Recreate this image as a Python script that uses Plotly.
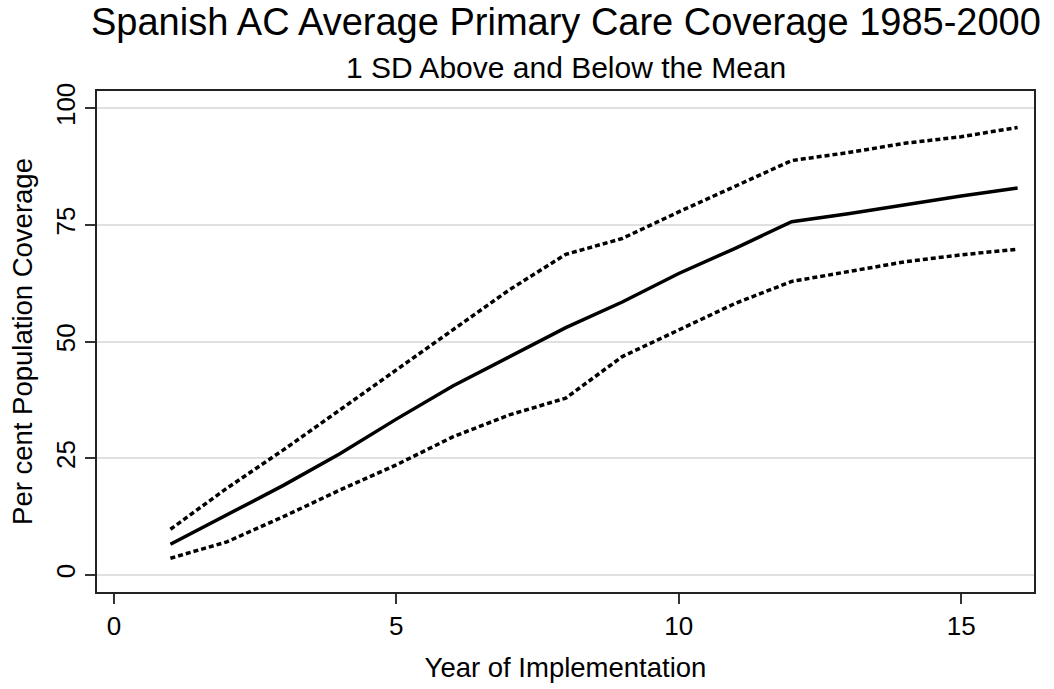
import plotly.graph_objects as go

years = list(range(1, 17))
mean_cov = [6.6, 12.9, 19.2, 26.0, 33.4, 40.5, 46.8, 53.0, 58.5, 64.6, 70.0, 75.7, 77.4, 79.3, 81.2, 82.9]
upper_cov = [9.8, 18.6, 26.8, 35.4, 43.9, 52.5, 61.1, 68.7, 72.1, 77.8, 83.2, 88.8, 90.5, 92.5, 93.9, 95.9]
lower_cov = [3.6, 7.1, 12.5, 18.2, 23.6, 29.6, 34.3, 37.9, 46.8, 52.5, 58.2, 62.9, 65.0, 67.1, 68.6, 69.8]

x_ticks = [0, 5, 10, 15]
y_ticks = [0, 25, 50, 75, 100]

title_text = "Spanish AC Average Primary Care Coverage 1985-2000"
subtitle_text = "1 SD Above and Below the Mean"
x_title = "Year of Implementation"
y_title = "Per cent Population Coverage"

FONT = "Liberation Sans, Arial, sans-serif"

fig = go.Figure()
fig.add_trace(go.Scatter(x=years, y=upper_cov, mode="lines",
                         line=dict(color="black", width=3.5, dash="5px,3px"), showlegend=False))
fig.add_trace(go.Scatter(x=years, y=mean_cov, mode="lines",
                         line=dict(color="black", width=3.5), showlegend=False))
fig.add_trace(go.Scatter(x=years, y=lower_cov, mode="lines",
                         line=dict(color="black", width=3.5, dash="5px,3px"), showlegend=False))

fig.update_layout(
    width=1054, height=689,
    margin=dict(l=97, r=20, t=91, b=97),
    paper_bgcolor="white", plot_bgcolor="white",
    font=dict(family=FONT, color="black"),
    showlegend=False,
    xaxis=dict(
        range=[-0.30, 16.29], tickvals=x_ticks, ticktext=[str(v) for v in x_ticks],
        showgrid=False, zeroline=False,
        showline=True, linecolor="#222222", linewidth=2, mirror=True,
        ticks="outside", ticklen=10, tickwidth=1.5, tickcolor="#333333",
        tickfont=dict(size=26, family=FONT, color="black"),
        title=dict(text=x_title, font=dict(size=27.5, family=FONT, color="black"), standoff=18),
    ),
    yaxis=dict(
        range=[-3.64, 103.7], tickvals=y_ticks, ticktext=[str(v) for v in y_ticks],
        showgrid=True, gridcolor="#e0e0e0", gridwidth=2, zeroline=False,
        showline=True, linecolor="#222222", linewidth=2, mirror=True,
        ticks="outside", ticklen=10, tickwidth=1.5, tickcolor="#333333",
        tickangle=-90,
        tickfont=dict(size=26, family=FONT, color="black"),
        title=dict(text=y_title, font=dict(size=27.5, family=FONT, color="black"), standoff=10),
    ),
    annotations=[
        dict(text=title_text, xref="paper", yref="paper", x=0.5, y=1.137,
             xanchor="center", yanchor="middle", showarrow=False,
             font=dict(size=38, family=FONT, color="black")),
        dict(text=subtitle_text, xref="paper", yref="paper", x=0.5, y=1.047,
             xanchor="center", yanchor="middle", showarrow=False,
             font=dict(size=30, family=FONT, color="black")),
    ],
)

fig.write_html("out.html", config={"displayModeBar": False},
               post_script="document.body.style.margin='0';document.body.style.padding='0';")
